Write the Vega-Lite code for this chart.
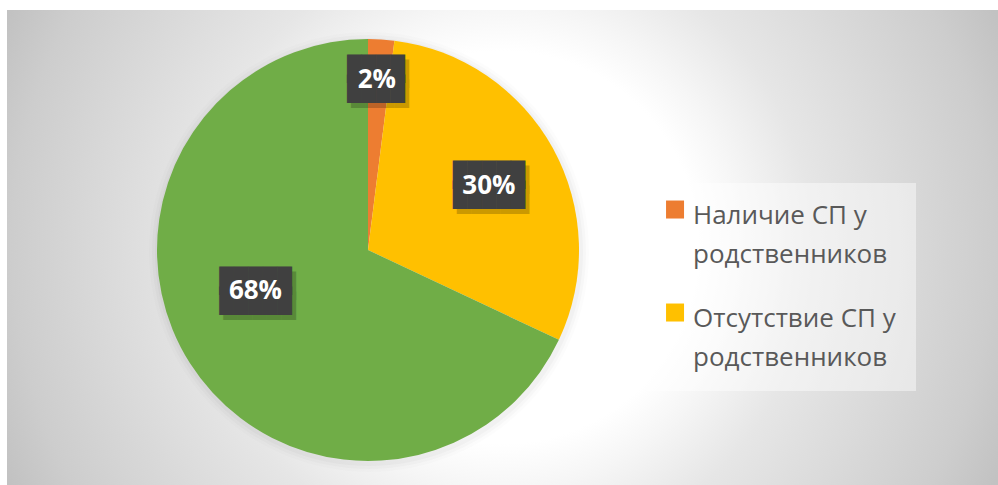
{
  "$schema": "https://vega.github.io/schema/vega-lite/v6.json",
  "width": 998,
  "height": 485,
  "autosize": {"type": "fit", "contains": "padding"},
  "padding": {"left": 7, "top": 10, "right": 0, "bottom": 0},
  "background": "#ffffff",
  "config": {"view": {"stroke": null}, "style": {"guide-label": {"lineHeight": 39}}},
  "datasets": {
    "pie": [
      {"category": "Наличие СП у родственников", "value": 2, "label": "2%"},
      {"category": "Отсутствие СП у родственников", "value": 30, "label": "30%"},
      {"category": "Нет данных", "value": 68, "label": "68%"}
    ],
    "bg": [{}]
  },
  "layer": [
    {
      "data": {"name": "bg"},
      "mark": {
        "type": "rect",
        "fill": {
          "gradient": "radial",
          "x1": 0.5, "y1": 0.5, "x2": 0.5, "y2": 0.5, "r1": 0, "r2": 0.55,
          "stops": [
            {"offset": 0, "color": "#ffffff"},
            {"offset": 0.36, "color": "#ffffff"},
            {"offset": 0.44, "color": "#f6f6f6"},
            {"offset": 0.57, "color": "#e6e6e6"},
            {"offset": 0.9, "color": "#cdcdcd"},
            {"offset": 1, "color": "#c2c2c2"}
          ]
        }
      },
      "encoding": {}
    },
    {
      "data": {"name": "bg"},
      "mark": {"type": "arc", "outerRadius": 220, "fill": "#000000", "opacity": 0.012},
      "encoding": {"x": {"value": 362}, "y": {"value": 242}}
    },
    {
      "data": {"name": "bg"},
      "mark": {"type": "arc", "outerRadius": 217, "fill": "#000000", "opacity": 0.018},
      "encoding": {"x": {"value": 362}, "y": {"value": 242}}
    },
    {
      "data": {"name": "bg"},
      "mark": {"type": "arc", "outerRadius": 214, "fill": "#000000", "opacity": 0.025},
      "encoding": {"x": {"value": 362}, "y": {"value": 242}}
    },
    {
      "data": {"name": "pie"},
      "mark": {"type": "arc", "outerRadius": 211},
      "encoding": {
        "theta": {"field": "value", "type": "quantitative", "stack": true},
        "order": {"field": "value", "type": "quantitative", "sort": "ascending"},
        "color": {
          "field": "category",
          "type": "nominal",
          "scale": {
            "domain": ["Наличие СП у родственников", "Отсутствие СП у родственников", "Нет данных"],
            "range": ["#ED7D31", "#FFC000", "#70AD47"]
          },
          "legend": {
            "orient": "none",
            "legendX": 639,
            "legendY": 173,
            "title": null,
            "values": ["Наличие СП у родственников", "Отсутствие СП у родственников"],
            "symbolType": "M-1.44,-1.72H0.56V0.28H-1.44Z",
            "symbolSize": 324,
            "symbolStrokeWidth": 0,
            "labelFont": "Open Sans",
            "labelFontSize": 26,
            "labelColor": "#595959",
            "labelLimit": 400,
            "labelOffset": 1,
            "rowPadding": 35,
            "padding": 20,
            "fillColor": "rgba(255,255,255,0.45)",
            "labelExpr": "[slice(datum.label, 0, lastindexof(datum.label, ' ')), slice(datum.label, lastindexof(datum.label, ' ') + 1)]"
          }
        },
        "x": {"value": 361},
        "y": {"value": 240}
      }
    },
    {
      "data": {"name": "pie"},
      "mark": {
        "type": "text",
        "font": "DejaVu Sans Mono",
        "fontSize": 24,
        "lineHeight": 20,
        "align": "center",
        "baseline": "middle",
        "color": "#000000",
        "opacity": 0.2,
        "radius": {"expr": "datum.value < 5 ? 172 : datum.value < 50 ? 138 : 125"},
        "dx": {"expr": "datum.value > 50 ? -3 : datum.value < 5 ? 1 : 4"},
        "dy": {"expr": "datum.value > 50 ? -30 : -3"}
      },
      "encoding": {
        "theta": {"field": "value", "type": "quantitative", "stack": true},
        "order": {"field": "value", "type": "quantitative", "sort": "ascending"},
        "text": {"condition": {"test": "datum.value < 5", "value": ["████", "████"]}, "value": ["█████", "█████"]},
        "x": {"value": 361},
        "y": {"value": 240}
      }
    },
    {
      "data": {"name": "pie"},
      "mark": {
        "type": "text",
        "font": "DejaVu Sans Mono",
        "fontSize": 24,
        "lineHeight": 20,
        "align": "center",
        "baseline": "middle",
        "color": "#404040",
        "radius": {"expr": "datum.value < 5 ? 172 : datum.value < 50 ? 138 : 125"},
        "dx": {"expr": "datum.value > 50 ? -7 : datum.value < 5 ? -3 : 0"},
        "dy": {"expr": "datum.value > 50 ? -35 : -8"}
      },
      "encoding": {
        "theta": {"field": "value", "type": "quantitative", "stack": true},
        "order": {"field": "value", "type": "quantitative", "sort": "ascending"},
        "text": {"condition": {"test": "datum.value < 5", "value": ["████", "████"]}, "value": ["█████", "█████"]},
        "x": {"value": 361},
        "y": {"value": 240}
      }
    },
    {
      "data": {"name": "pie"},
      "mark": {
        "type": "text",
        "font": "Open Sans",
        "fontSize": 26,
        "fontWeight": "bold",
        "align": "center",
        "baseline": "middle",
        "color": "#ffffff",
        "radius": {"expr": "datum.value < 5 ? 172 : datum.value < 50 ? 138 : 125"},
        "dx": {"expr": "datum.value > 50 ? -7 : datum.value < 5 ? -2 : 0"},
        "dy": {"expr": "datum.value > 50 ? -26 : 2"}
      },
      "encoding": {
        "theta": {"field": "value", "type": "quantitative", "stack": true},
        "order": {"field": "value", "type": "quantitative", "sort": "ascending"},
        "text": {"field": "label"},
        "x": {"value": 361},
        "y": {"value": 240}
      }
    }
  ]
}
